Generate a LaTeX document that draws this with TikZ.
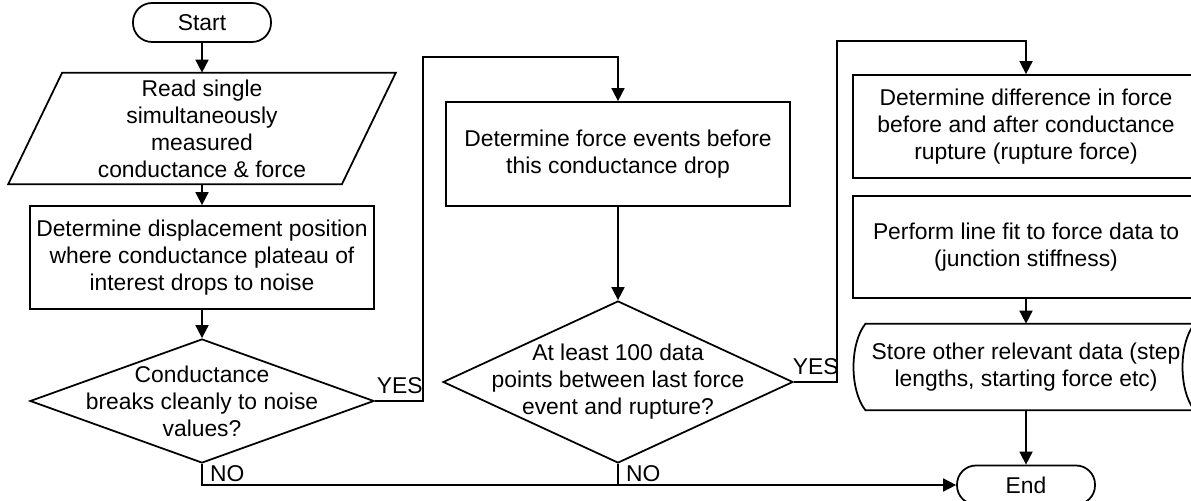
\documentclass[tikz,border=0pt]{standalone}
\usepackage{fontspec}
\setmainfont{Liberation Sans}
\usetikzlibrary{shapes.geometric, arrows.meta}

\begin{document}
\begin{tikzpicture}[
    font=\fontsize{13}{15.4}\selectfont,
    every node/.style={align=center},
    line/.style={line width=1pt},
    arr/.style={line width=1pt, -{Triangle[length=0.26cm, width=0.26cm]}},
    term/.style={draw, line width=1pt, rectangle, rounded corners=0.38cm, minimum width=2.76cm, minimum height=0.78cm},
    proc/.style={draw, line width=1pt, rectangle, minimum width=6.88cm, minimum height=2.06cm},
    decide/.style={draw, line width=1pt, diamond, inner sep=0pt},
    lbl/.style={inner sep=1pt}
]
\useasboundingbox (0,0) rectangle (23.82,10.02);

\node[term] (start) at (4.04, 9.57) {Start};
\node[minimum width=6.66cm, minimum height=2.22cm] (read) at (4.04, 7.45) {Read single\\simultaneously\\measured\\conductance \& force};
\draw[line] ([xshift=0.54cm]read.north west) -- ([xshift=0.54cm]read.north east) -- ([xshift=-0.54cm]read.south east) -- ([xshift=-0.54cm]read.south west) -- cycle;
\node[proc] (disp) at (4.04, 4.87) {Determine displacement position\\where conductance plateau of\\interest drops to noise};
\node[decide, minimum width=6.88cm, minimum height=2.48cm] (dec1) at (4.04, 2.0) {};
\node (dec1txt) at (dec1) {Conductance\\breaks cleanly to noise\\values?};

\node[proc, minimum height=2.08cm] (force) at (12.36, 6.94) {Determine force events before\\this conductance drop};
\node[decide, minimum width=7.0cm, minimum height=3.24cm] (dec2) at (12.36, 2.38) {};
\node (dec2txt) at (dec2) {At least 100 data\\points between last force\\event and rupture?};

\node[proc, minimum width=6.92cm] (rupt) at (20.52, 7.49) {Determine difference in force\\before and after conductance\\rupture (rupture force)};
\node[proc, minimum width=6.92cm, minimum height=2.04cm] (fit) at (20.52, 5.08) {Perform line fit to force data to\\(junction stiffness)};
\node[minimum width=6.4cm, minimum height=1.72cm] (store) at (20.52, 2.68) {Store other relevant data (step\\lengths, starting force etc)};
\draw[line] (store.north west) -- ([xshift=0.16cm]store.north east) .. controls +(-0.32,-0.4) and +(-0.32,0.4) .. ([xshift=0.16cm]store.south east) -- (store.south west) .. controls +(-0.32,0.4) and +(-0.32,-0.4) .. (store.north west) -- cycle;
\node[term] (end) at (20.52, 0.32) {End};

\draw[arr] (start) -- (read);
\draw[arr] (read) -- (disp);
\draw[arr] (disp) -- (dec1);
\coordinate (up1) at (8.46, 8.88);
\draw[arr] (dec1.east) -| (up1) -| (force.north);
\draw[arr] (force) -- (dec2);
\coordinate (up2) at (16.74, 9.2);
\draw[arr] (dec2.east) -| (up2) -| (rupt.north);
\draw[arr] (fit) -- (store);
\draw[arr] (store) -- (end);
\draw[arr] (dec1.south) |- (end.west);
\draw[line] (dec2.south) -- (dec2.south |- end.west);

\node[lbl, anchor=south west] (yes1) at ([yshift=0.1cm]dec1.east) {YES};
\node[lbl, anchor=south west] (yes2) at ([xshift=-0.06cm, yshift=0.1cm]dec2.east) {YES};
\node[lbl, anchor=north west] (no1) at ([xshift=0.12cm]dec1.south) {NO};
\node[lbl, anchor=north west] (no2) at ([xshift=0.12cm]dec2.south) {NO};

\end{tikzpicture}
\end{document}
